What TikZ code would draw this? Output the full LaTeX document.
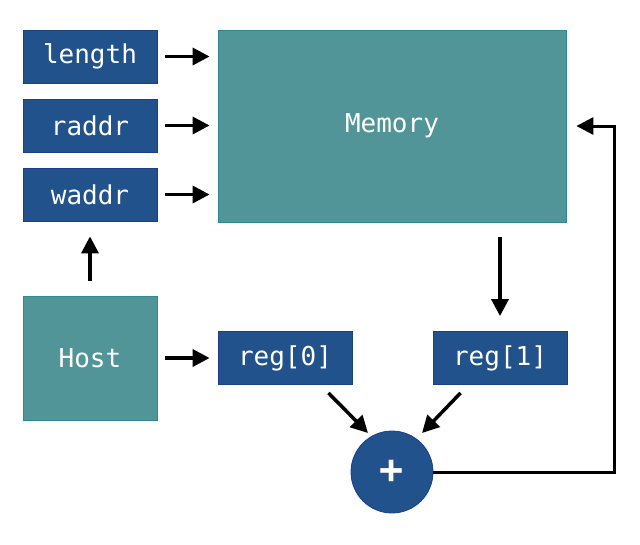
\documentclass[tikz,border=0pt]{standalone}
\usepackage{fontspec}
\setmonofont{DejaVu Sans Mono}
\usepackage{tikz}
\usetikzlibrary{calc,arrows.meta}

\definecolor{regblue}{HTML}{21528C}
\definecolor{regedge}{HTML}{1B3F8C}
\definecolor{memteal}{HTML}{529598}
\definecolor{memedge}{HTML}{2C8A91}

\begin{document}
\begin{tikzpicture}[x=1pt,y=-1pt,
    reg/.style={fill=regblue,draw=regedge,line width=0.8pt,text=white,
      minimum width=134pt,minimum height=53pt,inner sep=0pt},
    blk/.style={fill=memteal,draw=memedge,line width=0.8pt,text=white,inner sep=0pt},
    arr/.style={line width=3.5pt,-{Triangle[length=17pt,width=17pt]}},
    font=\ttfamily\fontsize{26}{30}\selectfont]
          \useasboundingbox (0,0) rectangle (640,544);
          \node[reg] (length) at (90,56.5) {length};
          \node[reg] (raddr) at (90,125.5) {raddr};
          \node[reg] (waddr) at (90,194.5) {waddr};
          \node[blk,minimum width=348pt,minimum height=192pt] (mem) at (392,126) {Memory};
          \node[blk,minimum width=134pt,minimum height=124pt] (host) at (90,358) {Host};
          \node[reg] (reg0) at (285,358) {reg[0]};
          \node[reg] (reg1) at (500,358) {reg[1]};
          \node[fill=regblue,draw=regedge,line width=0.8pt,text=white,shape=circle,
            minimum size=82pt,inner sep=0pt,font=\ttfamily\bfseries\fontsize{40}{40}\selectfont] (plus) at (392,472) {+};
          \draw[arr,shorten <=8pt,shorten >=8pt] (length.east) -- (length.east -| mem.west);
          \draw[arr,shorten <=8pt,shorten >=8pt] (raddr.east) -- (raddr.east -| mem.west);
          \draw[arr,shorten <=8pt,shorten >=8pt] (waddr.east) -- (waddr.east -| mem.west);
          \draw[arr,shorten <=15pt,shorten >=15pt] (host.north) -- (waddr.south);
          \draw[arr,shorten <=8pt,shorten >=8pt] (host.east) -- (reg0.west);
          \draw[arr,shorten <=15pt,shorten >=15pt] (mem.south -| reg1) -- (reg1.north);
          \draw[arr] ([shift={(-24,8)}]reg0.south east) -- ([shift={(-24,-39)}]plus.center);
          \draw[arr] ([shift={(28,8)}]reg1.south west) -- ([shift={(30,-39)}]plus.center);
          \draw[arr,line width=3pt,shorten >=10pt] (plus.east) -- ++(181,0) |- (mem.east);
        \end{tikzpicture}
\end{document}
